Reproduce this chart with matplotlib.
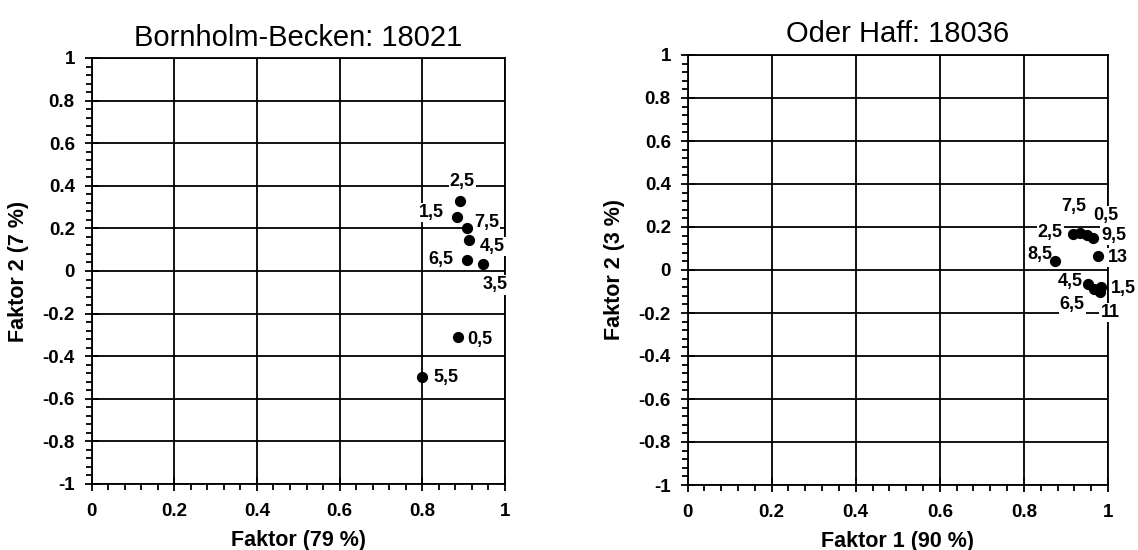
import numpy as np
import matplotlib.pyplot as plt
from matplotlib.ticker import MultipleLocator

plt.rcParams['font.family'] = ['Liberation Sans', 'DejaVu Sans']

# Bornholm-Becken: 18021
bb_labels = ["2,5", "1,5", "7,5", "4,5", "6,5", "3,5", "0,5", "5,5"]
bb_f1 = [0.892, 0.884, 0.909, 0.914, 0.907, 0.947, 0.886, 0.800]
bb_f2 = [0.330, 0.255, 0.200, 0.145, 0.053, 0.033, -0.308, -0.497]

# Oder Haff: 18036
oh_labels = ["2,5", "7,5", "0,5", "9,5", "13", "8,5", "4,5", "1,5", "6,5", "11"]
oh_f1 = [0.917, 0.933, 0.949, 0.964, 0.977, 0.874, 0.952, 0.983, 0.967, 0.981]
oh_f2 = [0.168, 0.173, 0.163, 0.147, 0.067, 0.040, -0.063, -0.077, -0.090, -0.104]

# label offsets (pixels) for the point labels
bb_off = [(2, 19), (-26, 4), (19, 6), (23, -6), (-26, 0), (12, -21), (22, -3), (24, -1)]
oh_off = [(-23, 1), (-6, 26), (19, 19), (21, 3), (20, -2), (-15, 7),
          (-18, 2), (23, -2), (-22, -15), (10, -20)]


def fmt(v, p):
    if abs(v) < 1e-9:
        return "0"
    return f"{v:.1f}".rstrip("0").rstrip(".")


def panel(ax, f1, f2, labels, offs, title, xlabel, ylabel):
    ax.set_xlim(0, 1)
    ax.set_ylim(-1, 1)
    ax.xaxis.set_major_locator(MultipleLocator(0.2))
    ax.yaxis.set_major_locator(MultipleLocator(0.2))
    ax.xaxis.set_minor_locator(MultipleLocator(0.04))
    ax.yaxis.set_minor_locator(MultipleLocator(0.04))
    ax.xaxis.set_major_formatter(fmt)
    ax.yaxis.set_major_formatter(fmt)
    ax.grid(True, which="major", color="black", linewidth=1.3)
    for s in ax.spines.values():
        s.set_linewidth(1.3)
    ax.tick_params(which="major", direction="inout", length=10, width=1.3,
                   labelsize=13.5)
    ax.tick_params(axis="y", which="major", pad=7)
    ax.tick_params(axis="x", which="major", pad=9)
    ax.tick_params(which="minor", direction="out", length=4, width=1.3)
    for t in ax.get_xticklabels() + ax.get_yticklabels():
        t.set_fontweight("bold")
    ax.scatter(f1, f2, s=50, color="black", zorder=5, clip_on=False)
    for x, y, lab, (dx, dy) in zip(f1, f2, labels, offs):
        ax.annotate(lab, (x, y), xytext=(dx, dy), textcoords="offset pixels",
                    ha="center", va="center", fontsize=13, fontweight="bold",
                    bbox=dict(facecolor="white", edgecolor="none", pad=0.8),
                    zorder=4, annotation_clip=False)
    ax.set_title(title, fontsize=21, pad=9)
    ax.set_xlabel(xlabel, fontsize=15.5, fontweight="bold", labelpad=7)
    ax.set_ylabel(ylabel, fontsize=15.5, fontweight="bold", labelpad=10)


fig = plt.figure(figsize=(11.38, 5.5), dpi=100)
ax1 = fig.add_axes([91.5 / 1138, 1 - 484 / 550, (505 - 91.5) / 1138, (484 - 58) / 550])
ax2 = fig.add_axes([687.5 / 1138, 1 - 485 / 550, (1108 - 687.5) / 1138, (485 - 55) / 550])

panel(ax1, bb_f1, bb_f2, bb_labels, bb_off, "Bornholm-Becken: 18021",
      "Faktor (79 %)", "Faktor 2 (7 %)")
panel(ax2, oh_f1, oh_f2, oh_labels, oh_off, "Oder Haff: 18036",
      "Faktor 1 (90 %)", "Faktor 2 (3 %)")

fig.savefig("out.png", dpi=100)
